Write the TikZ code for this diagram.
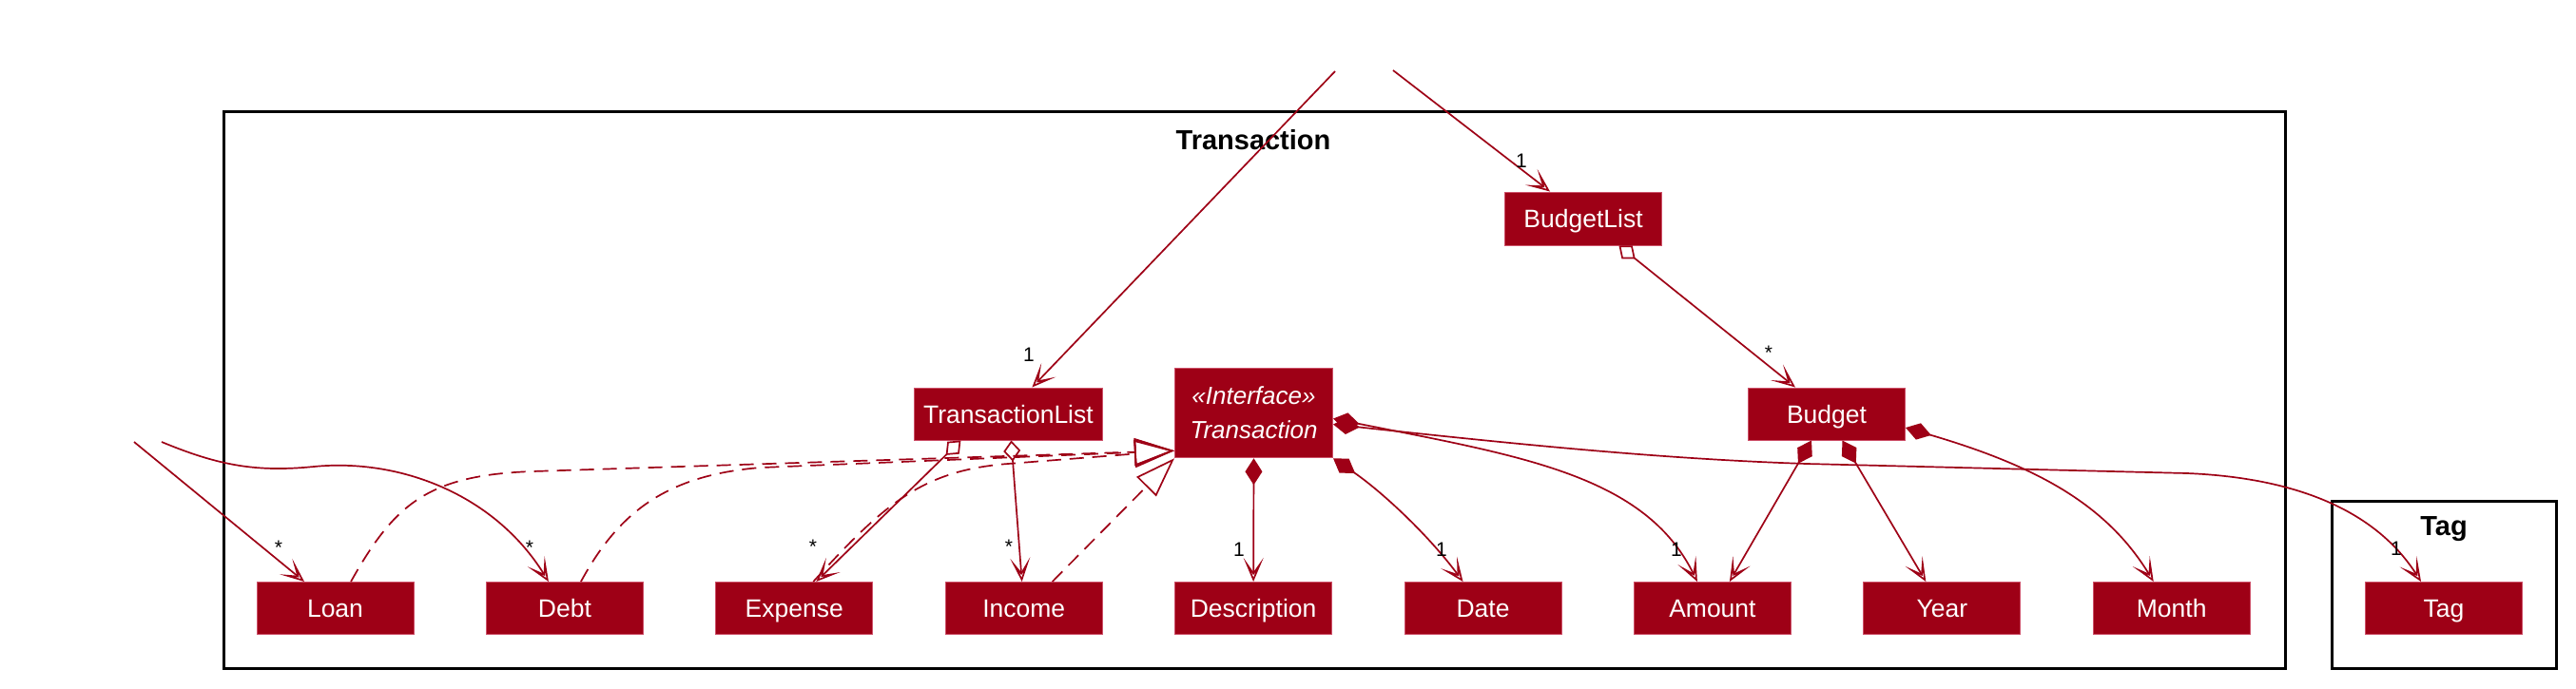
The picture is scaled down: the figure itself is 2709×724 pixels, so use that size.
\documentclass[tikz,border=0pt]{standalone}
\usepackage{fontspec}
\setmainfont{Liberation Sans}
\newfontfamily\boxfont{Liberation Sans}
\usetikzlibrary{arrows.meta}
\definecolor{umlred}{RGB}{158,0,22}
\definecolor{umlborder}{RGB}{205,80,105}
\begin{document}
\begin{tikzpicture}[x=1pt,y=-1pt,
  umlbox/.style={rectangle, fill=umlred, draw=umlborder, line width=1pt, minimum width=165pt, minimum height=55pt, inner sep=0pt, text height=24pt, text depth=5pt, text=white, font=\boxfont\fontsize{26.5}{31}\selectfont},
  frame/.style={draw=black, line width=3pt},
  frametitle/.style={font=\boxfont\bfseries\fontsize{29}{34}\selectfont, text=black},
  mult/.style={font=\boxfont\fontsize{21}{24}\selectfont, text=black, inner sep=0pt},
  conn/.style={draw=umlred, line width=1.7pt},
  assoc/.style={conn, -{Stealth[open,length=25pt,width=21pt,inset=15pt]}},
  aggr/.style={conn, {Diamond[open,length=22pt,width=18pt]}-{Stealth[open,length=25pt,width=21pt,inset=15pt]}},
  comp/.style={conn, {Diamond[length=28pt,width=18pt]}-{Stealth[open,length=25pt,width=21pt,inset=15pt]}},
  real/.style={conn, dash pattern=on 15pt off 9pt, -{Triangle[open,length=42pt,width=29pt]}}
]
\useasboundingbox (0,0) rectangle (2709,724);
\fill[white] (0,0) rectangle (2709,724);

% frames
\draw[frame] (235,117) rectangle (2403,703);
\node[frametitle] (ttitle) at (1318,147) {Transaction};
\draw[frame] (2452,527) rectangle (2688,703);
\node[frametitle] (tagtitle) at (2570,557) {Tag};

% nodes
\node[umlbox] (loan) at (352.5,640) {Loan};
\node[umlbox] (debt) at (593.9,640) {Debt};
\node[umlbox] (expense) at (835.3,640) {Expense};
\node[umlbox] (income) at (1076.7,640) {Income};
\node[umlbox] (desc) at (1318.1,640) {Description};
\node[umlbox] (date) at (1559.5,640) {Date};
\node[umlbox] (amount) at (1800.9,640) {Amount};
\node[umlbox] (year) at (2042.3,640) {Year};
\node[umlbox] (month) at (2283.7,640) {Month};
\node[umlbox] (tag) at (2570,640) {Tag};
\node[umlbox, minimum width=198pt] (tlist) at (1060.4,435.5) {TransactionList};
\node[umlbox, text height=, text depth=, minimum height=94.5pt, minimum width=166pt, align=center, font=\boxfont\itshape\fontsize{26}{36}\selectfont] (iface) at (1318.5,434.5) {«Interface»\\Transaction};
\node[umlbox] (budget) at (1921,435.5) {Budget};
\node[umlbox, minimum height=56pt] (blist) at (1665,230) {BudgetList};

% free ends
\coordinate (s1) at (1404,75);
\coordinate (s2) at (1465,74);
\coordinate (s3) at (141,465);
\coordinate (s4) at (170,465);

% associations from outside
\draw[assoc] (s1) -- ([xshift=25pt]tlist.north);
\node[mult] (m1) at (1082,373) {1};
\draw[assoc] (s2) -- ([xshift=-35pt]blist.north);
\node[mult] (m2) at (1600,169) {1};
\draw[assoc] (s3) -- ([xshift=-32.5pt]loan.north);
\node[mult] (m3) at (293,576) {*};
\draw[assoc] (s4) .. controls (230,490) and (270,497) .. (330,491) .. controls (420,482) and (520,520) .. ([xshift=-17pt]debt.north);
\node[mult] (m4) at (557,576) {*};

% realizations
\draw[real] ([xshift=16.5pt]loan.north) .. controls (415,530) and (450,500) .. (560,496) -- ([yshift=8pt]iface.south west);
\draw[real] ([xshift=17pt]debt.north) .. controls (650,540) and (700,500) .. (800,492) -- ([yshift=8pt]iface.south west);
\draw[real] ([xshift=20pt]expense.north) .. controls (930,530) and (970,495) .. (1060,488) -- ([yshift=8pt]iface.south west);
\draw[real] ([xshift=30pt]income.north) -- (iface.south west);

% aggregations
\draw[aggr] ([xshift=-50pt]tlist.south) -- ([xshift=23pt]expense.north);
\node[mult] (m5) at (855,575) {*};
\draw[aggr] ([xshift=3pt]tlist.south) -- ([xshift=-2pt]income.north);
\node[mult] (m6) at (1061,575) {*};
\draw[aggr] ([xshift=37.5pt]blist.south) -- ([xshift=-33pt]budget.north);
\node[mult] (m7) at (1860,371) {*};

% compositions from interface
\draw[comp] (iface.south) -- (desc.north);
\node[mult] (m8) at (1303,578) {1};
\draw[comp] (iface.south east) .. controls (1450,515) and (1500,560) .. ([xshift=-21pt]date.north);
\node[mult] (m9) at (1516,578) {1};
\draw[comp] ([yshift=-6pt]iface.east) .. controls (1600,480) and (1730,500) .. ([xshift=-16pt]amount.north);
\node[mult] (m10) at (1763,578) {1};
\draw[comp] ([yshift=-12pt]iface.east) .. controls (1600,468) and (1750,483) .. (1900,488) -- (2300,498) .. controls (2420,503) and (2500,540) .. ([xshift=-24pt]tag.north);
\node[mult] (m11) at (2520,577) {1};

% compositions from budget
\draw[comp] ([xshift=-16pt]budget.south) -- ([xshift=18pt]amount.north);
\draw[comp] ([xshift=16.5pt]budget.south) -- ([xshift=-17pt]year.north);
\draw[comp] ([yshift=-14.5pt]budget.east) .. controls (2140,490) and (2215,530) .. ([xshift=-19pt]month.north);
\end{tikzpicture}
\end{document}
